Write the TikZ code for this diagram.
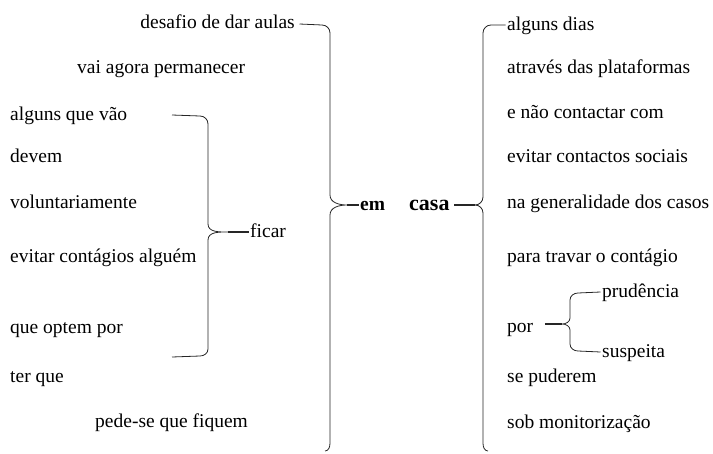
\documentclass[tikz,border=0pt]{standalone}
\usepackage{fontspec}
\setmainfont{Liberation Serif}
\newfontfamily\timesfont{Liberation Serif}
\usepackage{tikz}
\usetikzlibrary{positioning}

\begin{document}
\begin{tikzpicture}[x=1pt,y=-1pt,
        every node/.style={inner sep=1.5pt,text height=2.2ex,text depth=0pt,font=\timesfont\fontsize{19.5}{22}\selectfont},
        word/.style={anchor=west},
        key/.style={anchor=west,font=\timesfont\fontsize{19.5}{22}\selectfont\bfseries},
        brace/.style={draw=black!85,line width=0.8pt},
        tick/.style={draw=black!85,line width=1.3pt}]

      \useasboundingbox (0,0) rectangle (713,453);

      % left column
      \node[anchor=east] (desafio) at (296.5,23)  {desafio de dar aulas};
      \node[word] (vai)      at (75.5,68)   {vai agora permanecer};
      \node[word] (alguns)   at (8.5,115)   {alguns que vão};
      \node[word] (devem)    at (8.5,157)   {devem};
      \node[word] (volunt)   at (8.5,203)   {voluntariamente};
      \node[word] (evitar)   at (8.5,257)   {evitar contágios alguém};
      \node[word] (optem)    at (8.5,328)   {que optem por};
      \node[word] (terque)   at (8.5,377)   {ter que};
      \node[word] (pede)     at (93.5,422)  {pede-se que fiquem};
      \node[word] (ficar)    at (248.5,232) {ficar};

      % middle
      \node[key] (em)   at (358.5,205) {em};
      \node[key,font=\timesfont\fontsize{22}{24}\selectfont\bfseries] (casa) at (407.5,205) {casa};

      % right column
      \node[word] (dias)     at (505.5,25)  {alguns dias};
      \node[word] (atraves)  at (505.5,68)  {através das plataformas};
      \node[word] (contact)  at (505.5,113) {e não contactar com};
      \node[word] (sociais)  at (505.5,157) {evitar contactos sociais};
      \node[word] (casos)    at (505.5,203) {na generalidade dos casos};
      \node[word] (travar)   at (505.5,257) {para travar o contágio};
      \node[word] (por)      at (505.5,327) {por};
      \node[word] (prud)     at (600.5,292) {prudência};
      \node[word] (susp)     at (600.5,352) {suspeita};
      \node[word] (puderem)  at (505.5,377) {se puderem};
      \node[word] (monit)    at (505.5,423) {sob monitorização};

      \coordinate (ficartip) at (228,232);
      \coordinate (emtip)    at (347,205);
      \coordinate (casatip)  at (475,205);
      \coordinate (portip)   at (562,324);
      \coordinate (fica_a)   at (172,115);
      \coordinate (fica_b)   at (172,357);

      % braces
      \draw[brace] (fica_a) -- (200,116) to[out=0,in=90] (208,124) -- (208,224)
            to[out=-90,in=180] (ficartip) to[out=180,in=90] (208,240) -- (208,349)
            to[out=-90,in=0] (200,356) -- (fica_b);
      \draw[tick] (ficartip) -- (ficar.west);

      \draw[brace] (desafio.east) ++(3,1) -- (322,25) to[out=0,in=90] (330,33) -- (330,195)
            to[out=-90,in=180] (emtip) to[out=180,in=90] (330,215) -- (330,443)
            to[out=-90,in=0] (325,451);
      \draw[tick] (emtip) -- (em.west);

      \draw[brace] (dias.west) -- (491,25) to[out=180,in=90] (483,33) -- (483,197)
            to[out=-90,in=0] (casatip) to[out=0,in=90] (483,213) -- (483,443)
            to[out=-90,in=180] (488,451);
      \draw[tick] (casa.east) ++(3,0) -- (casatip);

      \draw[brace] (prud.west) -- (578,293) to[out=180,in=90] (570,300) -- (570,318)
            to[out=-90,in=0] (portip) to[out=0,in=90] (570,330) -- (570,344)
            to[out=-90,in=180] (578,351) -- (susp.west);
      \draw[tick] (por.east) ++(10,-3) -- (portip);
    \end{tikzpicture}
\end{document}
